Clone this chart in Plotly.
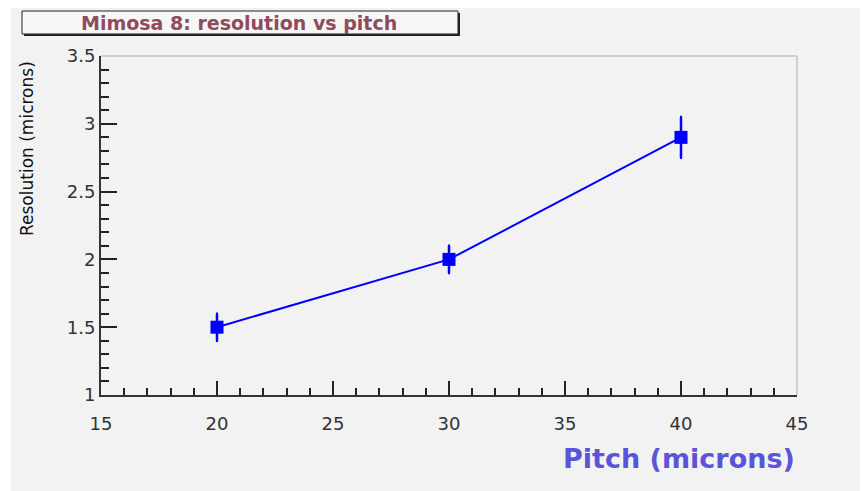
import plotly.graph_objects as go

# Data
pitch = [20, 30, 40]
resolution = [1.5, 2.0, 2.9]
resolution_err = [0.1, 0.1, 0.15]

x_ticks = [15, 20, 25, 30, 35, 40, 45]
y_ticks = [1, 1.5, 2, 2.5, 3, 3.5]

title_text = "Mimosa 8: resolution vs pitch"
x_title = "Pitch (microns)"
y_title = "Resolution (microns)"

# page has an 8px body margin; work in page pixel coordinates
OFF = 8
W, H = 868 - OFF, 491 - OFF
PL, PR, PT, PB = 101, 797, 56, 395  # plot area in page pixels
L, R, T, B = PL - OFF, W - (PR - OFF), PT - OFF, H - (PB - OFF)
PW, PH = PR - PL, PB - PT


def px(xp):
    return (xp - PL) / PW


def py(yp):
    return (PB - yp) / PH


fig = go.Figure()
fig.add_trace(go.Scatter(
    x=pitch, y=resolution,
    mode="lines+markers",
    line=dict(color="#0000ff", width=2),
    marker=dict(symbol="square", size=13, color="#0000ff"),
    error_y=dict(type="data", array=resolution_err, color="#0000ff",
                 thickness=2.5, width=1),
    showlegend=False,
))

axis_font = dict(family="DejaVu Sans", size=18, color="#333333")

fig.update_xaxes(
    range=[15, 45], tickvals=x_ticks, ticktext=[str(v) for v in x_ticks],
    showgrid=False, zeroline=False,
    showline=True, linecolor="#333333", linewidth=2,
    ticks="inside", ticklen=14, tickwidth=2, tickcolor="#222222",
    minor=dict(dtick=1, ticks="inside", ticklen=7, tickwidth=2, tickcolor="#222222"),
    tickfont=axis_font, ticklabelstandoff=11,
)
fig.update_yaxes(
    range=[1, 3.5], tickvals=y_ticks, ticktext=[f"{v:g}" for v in y_ticks],
    showgrid=False, zeroline=False,
    showline=True, linecolor="#333333", linewidth=2,
    ticks="inside", ticklen=16, tickwidth=2, tickcolor="#222222",
    minor=dict(dtick=0.1, ticks="inside", ticklen=8, tickwidth=2, tickcolor="#222222"),
    tickfont=axis_font, ticklabelstandoff=0,
)

shapes = [
    # white strip at left edge of page
    dict(type="rect", xref="paper", yref="paper", layer="below",
         x0=px(OFF), x1=px(11), y0=py(491), y1=py(OFF),
         fillcolor="#ffffff", line=dict(width=0)),
    # frame top and right (light)
    dict(type="line", xref="paper", yref="paper", x0=0, x1=1, y0=1, y1=1,
         line=dict(color="#cfcfcf", width=2)),
    dict(type="line", xref="paper", yref="paper", x0=1, x1=1, y0=0, y1=1,
         line=dict(color="#cfcfcf", width=2)),
    # title box shadow
    dict(type="rect", xref="paper", yref="paper",
         x0=px(24), x1=px(460), y0=py(36), y1=py(13),
         fillcolor="#222222", line=dict(width=0)),
    # title box
    dict(type="rect", xref="paper", yref="paper",
         x0=px(22), x1=px(458), y0=py(34), y1=py(11),
         fillcolor="#f6f6f6", line=dict(color="#222222", width=1)),
]

annotations = [
    dict(text=title_text, xref="paper", yref="paper",
         x=px(239), y=py(22.5), xanchor="center", yanchor="middle",
         showarrow=False,
         font=dict(family="DejaVu Sans", size=19, color="#8f4a5c", weight="bold")),
    dict(text=y_title, xref="paper", yref="paper",
         x=px(27), y=py(149), xanchor="center", yanchor="middle",
         textangle=-90, showarrow=False,
         font=dict(family="DejaVu Sans", size=17, color="#111111")),
    dict(text=x_title, xref="paper", yref="paper",
         x=px(797), y=py(458), xanchor="right", yanchor="middle",
         showarrow=False,
         font=dict(family="DejaVu Sans", size=27, color="#5954d9", weight="bold")),
]

fig.update_layout(
    width=W, height=H,
    margin=dict(l=L, r=R, t=T, b=B, pad=0),
    paper_bgcolor="#f2f2f2", plot_bgcolor="#f2f2f2",
    shapes=shapes, annotations=annotations,
    showlegend=False,
)

fig.write_html("out.html")
